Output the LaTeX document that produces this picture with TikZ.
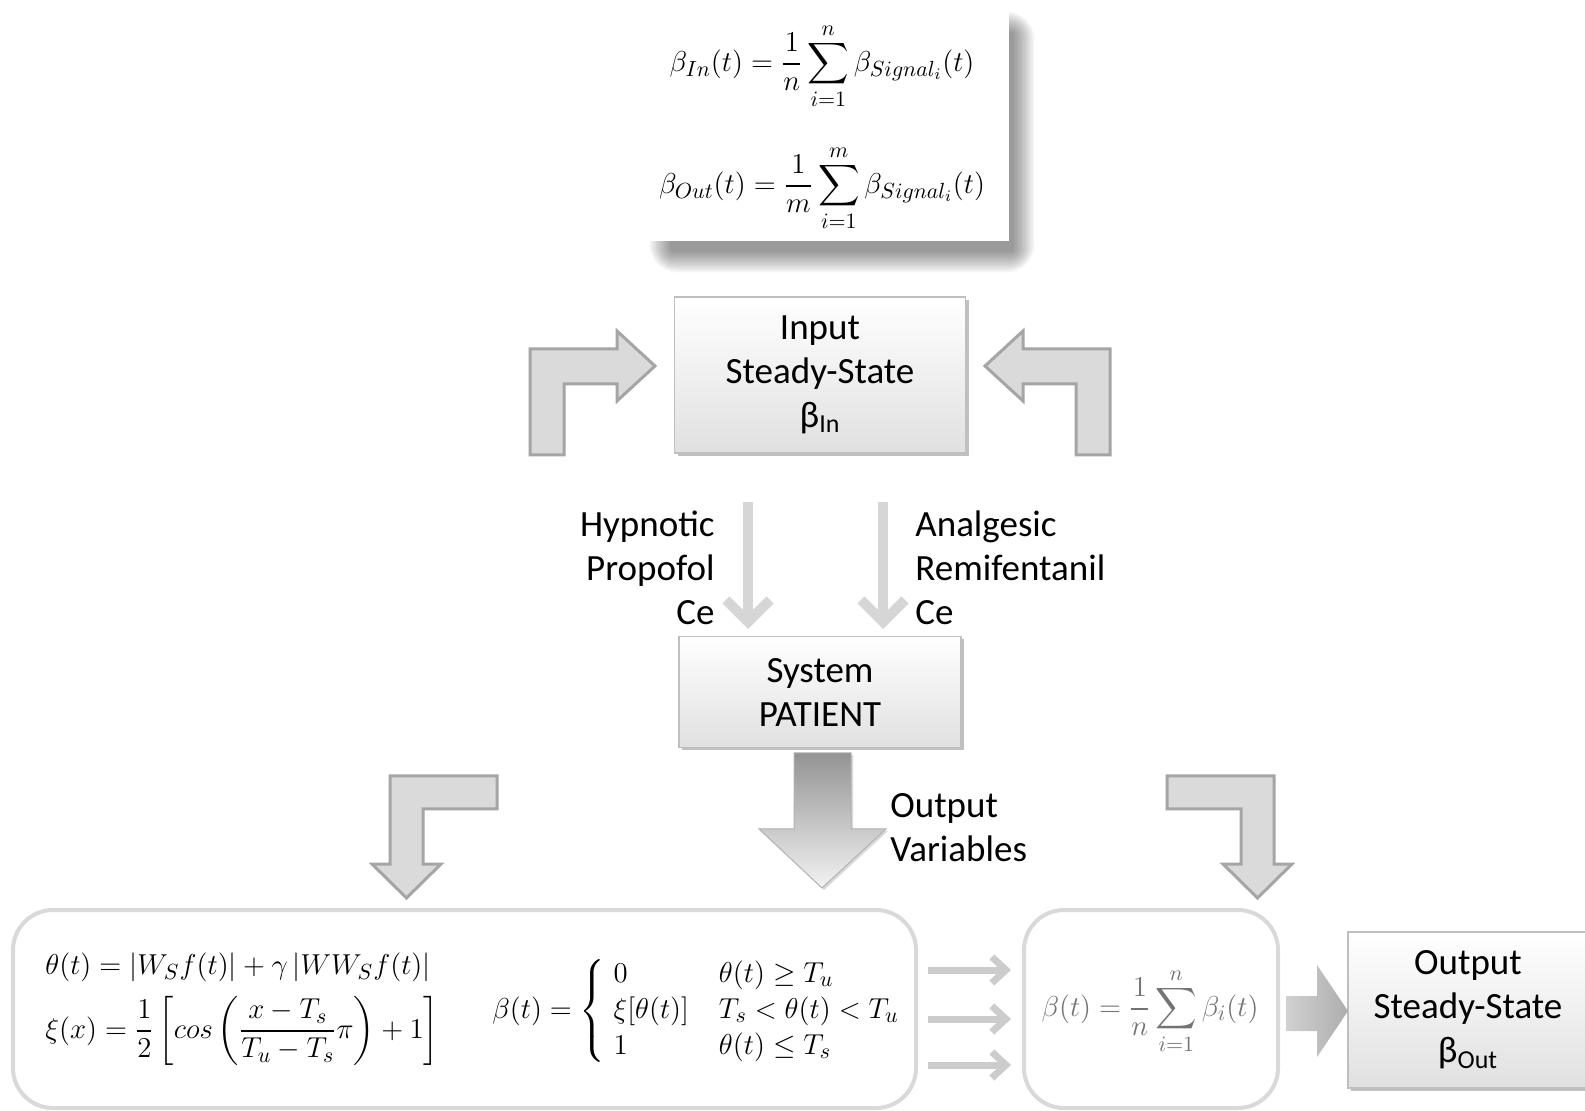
\documentclass[tikz,border=0pt]{standalone}
\usepackage{amsmath}
\usepackage{fontspec}
\setmainfont{Carlito}
\usetikzlibrary{shadows,arrows.meta}
\definecolor{boxborder}{HTML}{BFBFBF}
\definecolor{bentfill}{HTML}{DADADA}
\definecolor{bentdraw}{HTML}{A5A5A5}
\definecolor{roundborder}{HTML}{D9D9D9}
\definecolor{thinarrow}{HTML}{CCCCCC}
\definecolor{drugarrow}{HTML}{D6D6D6}
\tikzset{
  txt/.style={font=\fontsize{18.5}{22}\selectfont, inner sep=0pt},
  stdbox/.style={txt, draw=boxborder, line width=0.6pt, top color=white, bottom color=black!12,
    align=center, drop shadow={shadow xshift=1.5pt, shadow yshift=-1.5pt, opacity=0.45, fill=black!55}},
  bent/.style={fill=bentfill, draw=bentdraw, line width=1.5pt, line join=miter},
  roundbox/.style={draw=roundborder, line width=2pt, rounded corners=20pt, fill=white, inner sep=0pt},
  fml/.style={font=\fontsize{15}{18}\selectfont, inner sep=0pt},
  thinarr/.style={draw=thinarrow, line width=3.5pt, -{Straight Barb[length=7pt,width=13pt]}},
  drugarr/.style={draw=drugarrow, line width=5pt, -{Straight Barb[length=11pt,width=22pt]}},
}
\begin{document}
\begin{tikzpicture}[x=0.5pt,y=-0.5pt]
\useasboundingbox (0,0) rectangle (1585,1111);

% ---- top formula box with blurred shadow
\foreach \i in {1,...,14}
  \fill[black, opacity=0.035, rounded corners=\i*1pt] (672-\i*1.6,34-\i*1.6) rectangle (1012+\i*1.6,250+\i*1.6);
\node[fill=white, minimum width=180.5pt, minimum height=117.5pt, inner sep=0pt] (top) at (828.5,123.5) {};
\node[fml, font=\fontsize{15.5}{18}\selectfont] (fin) at (822,66) {$\displaystyle \beta_{In}(t) = \frac{1}{n}\sum_{i=1}^{n}\beta_{Signal_i}(t)$};
\node[fml, font=\fontsize{15.5}{18}\selectfont] (fout) at (822,188) {$\displaystyle \beta_{Out}(t) = \frac{1}{m}\sum_{i=1}^{m}\beta_{Signal_i}(t)$};

% ---- input box
\node[stdbox, minimum width=145.5pt, minimum height=78pt] (inp) at (820,375) {Input\\Steady-State\\β\textsubscript{In}};

% bent arrows toward input
\draw[bent] (530,455) -- (530,349) -- (617,349) -- (617,331) -- (655,366) -- (617,401) -- (617,384) -- (564,384) -- (564,455) -- cycle;
\draw[bent] (1110,455) -- (1110,349) -- (1023,349) -- (1023,331) -- (985,366) -- (1023,401) -- (1023,384) -- (1076,384) -- (1076,455) -- cycle;

% ---- system box
\node[stdbox, minimum width=141pt, minimum height=55.5pt] (sys) at (820,692) {System\\PATIENT};

% drug arrows
\coordinate (h1) at (748,502);
\coordinate (a1) at (883,502);
\draw[drugarr] (h1) -- (h1 |- 0,629);
\draw[drugarr] (a1) -- (a1 |- 0,629);
\node[txt, anchor=east, align=right] (hyp) at (715,568) {Hypnotic\\Propofol\\Ce};
\node[txt, anchor=west, align=left] (ana) at (915,568) {Analgesic\\Remifentanil\\Ce};

% big output arrow
\path[draw=black!30, line width=0.5pt, top color=black!42, bottom color=black!5, drop shadow={shadow xshift=1pt, shadow yshift=-1pt, opacity=0.3}]
  (794,753) -- (851,753) -- (851,829) -- (886,829) -- (822,888) -- (759,829) -- (794,829) -- cycle;
\node[txt, anchor=west, align=left] (outv) at (890,828) {Output\\Variables};

% bent arrows downward
\draw[bent] (497,776) -- (390,776) -- (390,864) -- (372,864) -- (406.5,898) -- (441,864) -- (423,864) -- (423,809) -- (497,809) -- cycle;
\draw[bent] (1167,776) -- (1274,776) -- (1274,864) -- (1292,864) -- (1257.5,898) -- (1223,864) -- (1241,864) -- (1241,809) -- (1167,809) -- cycle;

% ---- bottom rounded boxes
\node[roundbox, minimum width=451.5pt, minimum height=99pt] (lbox) at (464.5,1009) {};
\node[roundbox, minimum width=127pt, minimum height=99pt] (mbox) at (1151,1009) {};

\node[fml, anchor=west] (theta) at (45,967) {$\theta(t) = |W_S f(t)| + \gamma\,|WW_S f(t)|$};
\node[fml, anchor=west] (xi) at (45,1031) {$\xi(x) = \dfrac{1}{2}\left[cos\left(\dfrac{x-T_s}{T_u-T_s}\pi\right)+1\right]$};
\node[fml, anchor=west] (cases) at (492,1011) {$\beta(t) = \left\{\begin{array}{@{\;}l@{\quad}l@{}} 0 & \theta(t)\geq T_u\\ \xi[\theta(t)] & T_s<\theta(t)<T_u\\ 1 & \theta(t)\leq T_s\end{array}\right.$};

\node[fml, text=black!55] (avg) at (1150,1011) {$\displaystyle \beta(t) = \frac{1}{n}\sum_{i=1}^{n}\beta_i(t)$};

% three thin arrows
\draw[thinarr] (928,970) -- (1011,970);
\draw[thinarr] (928,1019) -- (1011,1019);
\draw[thinarr] (928,1065) -- (1011,1065);

% ---- output box
\node[stdbox, minimum width=120pt, minimum height=78pt] (outb) at (1468,1010) {Output\\Steady-State\\β\textsubscript{Out}};

% block arrow to output
\path[left color=black!18, right color=black!32]
  (1286,996) -- (1317,996) -- (1317,965) -- (1348,1011) -- (1317,1057) -- (1317,1031) -- (1286,1031) -- cycle;
\end{tikzpicture}
\end{document}
